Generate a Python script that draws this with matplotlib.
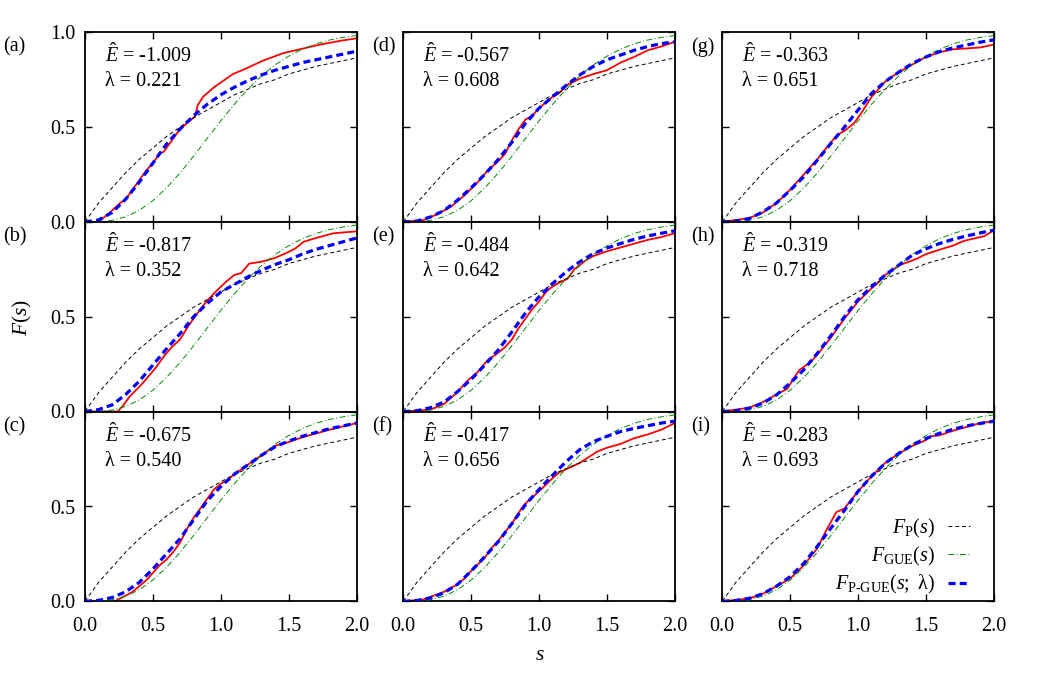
import matplotlib
matplotlib.use("Agg")
import matplotlib.pyplot as plt

plt.rcParams['font.family'] = 'serif'
plt.rcParams['font.serif'] = ['Liberation Serif', 'DejaVu Serif']
plt.rcParams['mathtext.fontset'] = 'custom'
plt.rcParams['mathtext.rm'] = 'Liberation Serif'
plt.rcParams['mathtext.it'] = 'Liberation Serif:italic'
plt.rcParams['mathtext.bf'] = 'Liberation Serif:bold'

# ---------------- data ----------------
s_grid = [0.0, 0.1, 0.2, 0.3, 0.4, 0.5, 0.6, 0.7, 0.8, 0.9, 1.0,
          1.1, 1.2, 1.3, 1.4, 1.5, 1.6, 1.7, 1.8, 1.9, 2.0]

F_poisson = [0.0, 0.10, 0.18, 0.26, 0.33, 0.39, 0.45, 0.50, 0.55, 0.59, 0.63,
             0.67, 0.70, 0.73, 0.75, 0.78, 0.80, 0.82, 0.835, 0.85, 0.865]
F_gue = [0.0, 0.001, 0.008, 0.027, 0.061, 0.112, 0.179, 0.258, 0.347, 0.440, 0.533,
         0.620, 0.700, 0.770, 0.828, 0.874, 0.911, 0.939, 0.959, 0.973, 0.983]

panel_labels = ['(a)', '(b)', '(c)', '(d)', '(e)', '(f)', '(g)', '(h)', '(i)']
E_hat = ['-1.009', '-0.817', '-0.675', '-0.567', '-0.484', '-0.417', '-0.363', '-0.319', '-0.283']
lam = ['0.221', '0.352', '0.540', '0.608', '0.642', '0.656', '0.651', '0.718', '0.693']

F_pgue_a = [0, 0.01, 0.05, 0.12, 0.21, 0.31, 0.41, 0.49, 0.56, 0.62, 0.67,
            0.71, 0.745, 0.775, 0.80, 0.82, 0.84, 0.855, 0.87, 0.885, 0.90]
F_pgue_b = [0, 0.01, 0.035, 0.09, 0.16, 0.245, 0.33, 0.41, 0.50, 0.57, 0.63,
            0.67, 0.71, 0.745, 0.775, 0.80, 0.83, 0.855, 0.875, 0.895, 0.915]
F_pgue_c = [0, 0.005, 0.02, 0.05, 0.10, 0.17, 0.25, 0.33, 0.43, 0.53, 0.605,
            0.67, 0.72, 0.77, 0.815, 0.845, 0.87, 0.89, 0.91, 0.925, 0.94]
F_pgue_d = [0, 0.004, 0.026, 0.06, 0.115, 0.18, 0.25, 0.33, 0.42, 0.52, 0.60,
            0.66, 0.72, 0.775, 0.82, 0.855, 0.88, 0.905, 0.925, 0.94, 0.95]
F_pgue_e = [0, 0.004, 0.02, 0.05, 0.105, 0.17, 0.245, 0.325, 0.42, 0.52, 0.605,
            0.675, 0.737, 0.79, 0.833, 0.862, 0.886, 0.908, 0.926, 0.94, 0.953]
F_pgue_f = [0, 0.004, 0.018, 0.045, 0.09, 0.16, 0.235, 0.315, 0.41, 0.51, 0.59,
            0.665, 0.737, 0.80, 0.842, 0.87, 0.895, 0.912, 0.926, 0.94, 0.95]
F_pgue_g = [0, 0.004, 0.018, 0.053, 0.10, 0.167, 0.238, 0.326, 0.414, 0.50, 0.59,
            0.678, 0.74, 0.79, 0.836, 0.87, 0.898, 0.918, 0.933, 0.948, 0.96]
F_pgue_h = [0, 0.004, 0.018, 0.044, 0.088, 0.15, 0.22, 0.307, 0.40, 0.50, 0.59,
            0.658, 0.72, 0.772, 0.825, 0.858, 0.886, 0.908, 0.926, 0.942, 0.956]
F_pgue_i = [0, 0.004, 0.016, 0.04, 0.08, 0.13, 0.20, 0.29, 0.386, 0.48, 0.58,
            0.66, 0.728, 0.78, 0.825, 0.858, 0.886, 0.907, 0.925, 0.938, 0.95]

# empirical cumulative distributions (red)
s_emp_a = [0, 0.10, 0.15, 0.20, 0.26, 0.30, 0.35, 0.40, 0.45, 0.50, 0.55, 0.58, 0.65, 0.70,
           0.75, 0.80, 0.81, 0.83, 0.87, 0.95, 1.01, 1.09, 1.19, 1.31, 1.46, 1.58, 1.73, 1.88, 2.0]
F_emp_a = [0, 0.0, 0.03, 0.06, 0.10, 0.12, 0.17, 0.22, 0.27, 0.31, 0.36, 0.37, 0.44, 0.49,
           0.52, 0.55, 0.555, 0.615, 0.66, 0.71, 0.74, 0.78, 0.81, 0.85, 0.89, 0.91, 0.935, 0.955, 0.968]
s_emp_b = [0, 0.24, 0.28, 0.33, 0.40, 0.45, 0.52, 0.58, 0.64, 0.70, 0.76, 0.80, 0.85, 0.90,
           0.96, 1.04, 1.10, 1.15, 1.21, 1.30, 1.40, 1.48, 1.55, 1.61, 1.70, 1.83, 2.0]
F_emp_b = [0, 0, 0.03, 0.08, 0.13, 0.17, 0.23, 0.29, 0.34, 0.38, 0.45, 0.49, 0.54, 0.585,
           0.63, 0.685, 0.72, 0.73, 0.78, 0.79, 0.81, 0.835, 0.86, 0.895, 0.915, 0.94, 0.95]
s_emp_c = [0, 0.22, 0.30, 0.35, 0.40, 0.45, 0.50, 0.55, 0.60, 0.65, 0.70, 0.75, 0.80, 0.85,
           0.90, 0.95, 1.00, 1.05, 1.10, 1.20, 1.30, 1.40, 1.45, 1.50, 1.60, 1.70, 1.80, 2.0]
F_emp_c = [0, 0, 0.03, 0.05, 0.08, 0.11, 0.15, 0.19, 0.22, 0.26, 0.31, 0.38, 0.44, 0.49,
           0.54, 0.59, 0.62, 0.64, 0.67, 0.72, 0.77, 0.82, 0.83, 0.84, 0.865, 0.885, 0.905, 0.94]
s_emp_d = [0, 0.15, 0.25, 0.35, 0.45, 0.55, 0.62, 0.70, 0.75, 0.80, 0.85, 0.90, 0.95, 1.00,
           1.10, 1.15, 1.20, 1.30, 1.40, 1.50, 1.60, 1.70, 1.80, 1.90, 2.0]
F_emp_d = [0, 0.01, 0.04, 0.08, 0.14, 0.21, 0.27, 0.32, 0.36, 0.43, 0.49, 0.54, 0.56, 0.60,
           0.66, 0.68, 0.72, 0.755, 0.78, 0.80, 0.84, 0.87, 0.905, 0.925, 0.95]
s_emp_e = [0, 0.20, 0.30, 0.38, 0.42, 0.47, 0.55, 0.62, 0.70, 0.75, 0.80, 0.85, 0.90, 0.95,
           1.00, 1.05, 1.10, 1.15, 1.21, 1.26, 1.35, 1.40, 1.50, 1.60, 1.70, 1.80, 1.90, 2.0]
F_emp_e = [0, 0.01, 0.04, 0.09, 0.12, 0.16, 0.21, 0.27, 0.31, 0.34, 0.38, 0.44, 0.49, 0.54,
           0.58, 0.63, 0.66, 0.68, 0.70, 0.75, 0.80, 0.82, 0.845, 0.865, 0.885, 0.905, 0.92, 0.94]
s_emp_f = [0, 0.15, 0.30, 0.40, 0.45, 0.50, 0.60, 0.65, 0.70, 0.80, 0.88, 0.92, 1.00, 1.10,
           1.15, 1.21, 1.30, 1.43, 1.50, 1.60, 1.70, 1.80, 1.90, 2.0]
F_emp_f = [0, 0.01, 0.05, 0.09, 0.12, 0.16, 0.23, 0.28, 0.32, 0.41, 0.50, 0.53, 0.58, 0.65,
           0.68, 0.70, 0.73, 0.79, 0.81, 0.83, 0.86, 0.88, 0.905, 0.94]
s_emp_g = [0, 0.2, 0.3, 0.4, 0.5, 0.55, 0.6, 0.7, 0.8, 0.85, 0.9, 0.97, 1.02, 1.1, 1.2,
           1.3, 1.4, 1.5, 1.6, 1.7, 1.8, 1.9, 2.0]
F_emp_g = [0, 0.02, 0.05, 0.10, 0.17, 0.21, 0.25, 0.33, 0.42, 0.46, 0.48, 0.52, 0.57, 0.66, 0.74,
           0.79, 0.83, 0.87, 0.895, 0.91, 0.915, 0.92, 0.935]
s_emp_h = [0, 0.2, 0.3, 0.4, 0.48, 0.52, 0.57, 0.65, 0.70, 0.80, 0.90, 1.0, 1.1, 1.15, 1.2,
           1.3, 1.43, 1.50, 1.63, 1.70, 1.78, 1.93, 2.0]
F_emp_h = [0, 0.02, 0.05, 0.09, 0.12, 0.17, 0.22, 0.26, 0.30, 0.39, 0.49, 0.58, 0.65, 0.68, 0.72,
           0.77, 0.805, 0.83, 0.86, 0.875, 0.90, 0.925, 0.955]
s_emp_i = [0, 0.2, 0.3, 0.4, 0.5, 0.6, 0.7, 0.77, 0.84, 0.9, 1.0, 1.1, 1.2, 1.3, 1.4, 1.5,
           1.53, 1.6, 1.7, 1.8, 1.9, 2.0]
F_emp_i = [0, 0.015, 0.04, 0.08, 0.12, 0.19, 0.28, 0.38, 0.47, 0.49, 0.58, 0.66, 0.73, 0.78, 0.82, 0.85,
           0.87, 0.875, 0.90, 0.92, 0.94, 0.95]

pgue = [F_pgue_a, F_pgue_b, F_pgue_c, F_pgue_d, F_pgue_e, F_pgue_f, F_pgue_g, F_pgue_h, F_pgue_i]
emp_s = [s_emp_a, s_emp_b, s_emp_c, s_emp_d, s_emp_e, s_emp_f, s_emp_g, s_emp_h, s_emp_i]
emp_F = [F_emp_a, F_emp_b, F_emp_c, F_emp_d, F_emp_e, F_emp_f, F_emp_g, F_emp_h, F_emp_i]

x_ticks = [0.0, 0.5, 1.0, 1.5, 2.0]
x_ticklabels = ['0.0', '0.5', '1.0', '1.5', '2.0']
y_ticks = [0.0, 0.5, 1.0]

# ---------------- layout ----------------
W, H = 1063, 678
fig = plt.figure(figsize=(W / 100, H / 100), dpi=100)

col_left = [85, 403.3, 722.3]
col_width = 271.5
row_top = [32.3, 221.9, 411.7]
row_height = 189.6

FS = 14.5
for k in range(9):
    col, row = k // 3, k % 3
    ax = fig.add_axes([col_left[col] / W, 1 - (row_top[row] + row_height) / H,
                       col_width / W, row_height / H])
    ax.plot(emp_s[k], emp_F[k], color='#ff0000', lw=1.3, zorder=2)
    ax.plot(s_grid, F_poisson, color='black', lw=0.7, dashes=(4, 3), zorder=3,
            label=r'$F_{\mathrm{P}}(s)$')
    ax.plot(s_grid, F_gue, color='#008a00', lw=0.7, dashes=(6, 2.5, 1, 2.5), zorder=3,
            label=r'$F_{\mathrm{GUE}}(s)$')
    ax.plot(s_grid, pgue[k], color='#0000ff', lw=2.3, dashes=(2.2, 1.3), zorder=4,
            label=r'$F_{\mathrm{P\text{-}GUE}}(s;$ λ$)$')
    ax.set_xlim(0, 2)
    ax.set_ylim(0, 1)
    ax.set_xticks(x_ticks)
    ax.set_yticks(y_ticks)
    ax.tick_params(direction='in', top=True, right=True, length=5, width=1,
                   labelsize=FS, pad=7)
    ax.tick_params(axis='x', pad=11)
    for sp in ax.spines.values():
        sp.set_linewidth(1.3)
    if row == 2:
        ax.set_xticklabels(x_ticklabels)
    else:
        ax.set_xticklabels([])
    if col == 0:
        if row == 0:
            ax.set_yticklabels(['0.0', '0.5', '1.0'])
        else:
            ax.set_yticklabels(['0.0', '0.5', ''])
    else:
        ax.set_yticklabels([])

    ax.text(20 / col_width, 1 - 30 / row_height, r'$\hat{E}$ = ' + E_hat[k],
            transform=ax.transAxes, fontsize=FS, va='baseline', ha='left')
    ax.text(20 / col_width, 1 - 54 / row_height, 'λ = ' + lam[k],
            transform=ax.transAxes, fontsize=FS, va='baseline', ha='left')

    lab_x = [3, 372, 691][col]
    fig.text(lab_x / W, 1 - (row_top[row] + 15) / H, panel_labels[k],
             fontsize=FS, ha='left', va='center')

    if k == 8:
        ax.legend(loc='lower right', markerfirst=False, frameon=False, fontsize=FS,
                  handlelength=1.1, handletextpad=0.65, labelspacing=0.25,
                  borderaxespad=0.0, bbox_to_anchor=(0.942, -0.015))

fig.text(540 / W, 1 - 655 / H, r'$s$', fontsize=FS + 1, ha='center', va='center')
fig.text(22 / W, 1 - 317 / H, r'$F(s)$', fontsize=FS + 1, ha='center', va='center',
         rotation=90)

fig.savefig('out.png', dpi=100)
